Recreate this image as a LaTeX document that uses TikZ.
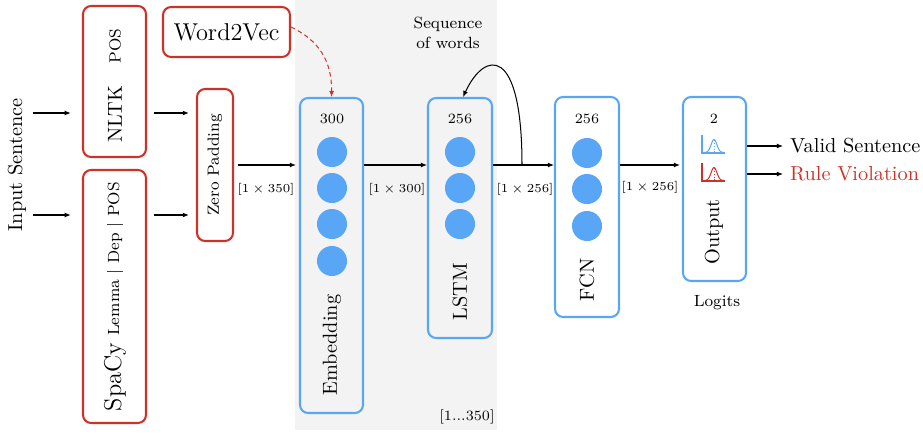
\documentclass[tikz,border=0pt]{standalone}
\usetikzlibrary{arrows.meta,fit,calc}
\definecolor{myred}{RGB}{205,50,40}
\definecolor{myblue}{RGB}{88,166,245}
\definecolor{bggray}{RGB}{243,243,243}
\begin{document}
\begin{tikzpicture}[x=0.4926pt,y=-0.4926pt,
  redbox/.style={draw=myred, line width=1pt, rounded corners=4pt, inner sep=0pt},
  bluebox/.style={draw=myblue, line width=1pt, rounded corners=4pt, inner sep=0pt},
  neuron/.style={circle, fill=myblue, minimum size=14.8pt, inner sep=0pt},
  arr/.style={-{Latex[length=3pt,width=2.4pt]}, line width=0.5pt},
  dimlbl/.style={font=\fontsize{5.6}{7}\selectfont},
  numlbl/.style={font=\scriptsize},
]
\useasboundingbox (0,0) rectangle (923,434);
\fill[bggray] (295,0) rectangle (497,430);

% left boxes
\node[redbox, fit={(83,6) (146,157)}] (nltk) {};
\node[rotate=90, font=\footnotesize] (nltkpos) at (115,46) {POS};
\node[rotate=90] (nltkname) at (115,114) {NLTK};
\node[redbox, fit={(83,170) (146,423)}] (spacy) {};
\node[rotate=90, font=\footnotesize] (spacyfeat) at (115,259) {Lemma $|$ Dep $|$ POS};
\node[rotate=90, font=\large] (spacyname) at (115,377) {SpaCy};
\node[redbox, fit={(163,7) (290,57)}] (w2v) {};
\node[font=\large] (w2vtext) at (w2v) {Word2Vec};
\node[redbox, fit={(197,89) (233,241)}] (zp) {};
\node[rotate=90, font=\footnotesize] (zptext) at (zp) {Zero Padding};
\node[rotate=90] (input) at (17,165) {Input Sentence};

\coordinate (a1) at (33,113);
\coordinate (a2) at (33,215);
\draw[arr, shorten >=5.5pt] (a1) -- (nltk.west |- a1);
\draw[arr, shorten >=5.5pt] (a2) -- (spacy.west |- a2);
\draw[arr, shorten <=3.5pt, shorten >=3.5pt] (nltk.east |- a1) -- (zp.west |- a1);
\draw[arr, shorten <=3.5pt, shorten >=3.5pt] (spacy.east |- a2) -- (zp.west |- a2);

% network boxes
\node[bluebox, fit={(300,98) (363,413)}] (emb) {};
\node[bluebox, fit={(428,98) (492,338)}] (lstm) {};
\node[bluebox, fit={(555,97) (619,317)}] (fcn) {};
\node[bluebox, fit={(683,97) (746,281)}] (out) {};

\node[numlbl] (embn) at (332,119) {300};
\node[neuron] (e1) at (332,152) {};
\node[neuron] (e2) at (332,188) {};
\node[neuron] (e3) at (332,224) {};
\node[neuron] (e4) at (332,261) {};
\node[rotate=90] (embtext) at (332,345) {Embedding};

\node[numlbl] (lstmn) at (460,119) {256};
\node[neuron] (l1) at (460,152) {};
\node[neuron] (l2) at (460,188) {};
\node[neuron] (l3) at (460,224) {};
\node[rotate=90] (lstmtext) at (460,292) {LSTM};

\node[numlbl] (fcnn) at (587,119) {256};
\node[neuron] (f1) at (587,153) {};
\node[neuron] (f2) at (587,189) {};
\node[neuron] (f3) at (587,226) {};
\node[rotate=90] (fcntext) at (587,280) {FCN};

\node[numlbl] (outn) at (714,119) {2};
\node[rotate=90] (outtext) at (714,232) {Output};

% distribution icons
\draw[myblue, line width=0.6pt] (702,135) -- (702,153) -- (725,153);
\draw[myblue, line width=0.5pt] plot[domain=-1:1, samples=40] ({714+10*\x},{152.5-13*exp(-6*\x*\x)});
\draw[myblue, densely dotted, line width=0.4pt] (714,140) -- (714,153);
\draw[myred, line width=0.6pt] (702,163) -- (702,181) -- (725,181);
\draw[myred, line width=0.5pt] plot[domain=-1:1, samples=40] ({714+10*\x},{180.5-13*exp(-6*\x*\x)});
\draw[myred, densely dotted, line width=0.4pt] (714,168) -- (714,181);

% arrows between stages
\coordinate (m) at (0,165);
\draw[arr, shorten <=2pt, shorten >=1.5pt] (zp.east |- m) -- (emb.west |- m);
\node[dimlbl] (d1) at (266,189) {$[1\times 350]$};
\draw[arr] (emb.east |- m) -- (lstm.west |- m);
\node[dimlbl] (d2) at (397,189) {$[1\times 300]$};
\draw[arr] (lstm.east |- m) -- (fcn.west |- m);
\node[dimlbl] (d3) at (525,189) {$[1\times 256]$};
\draw[arr, shorten >=1pt] (fcn.east |- m) -- (out.west |- m);
\node[dimlbl] (d4) at (650,187) {$[1\times 256]$};

% recurrent loop
\coordinate (rec) at (522,165);
\draw[arr] (rec) .. controls (522,45) and (485,50) .. ($(lstm.north)+(3,0)$);

% word2vec dashed
\draw[arr, myred, dash pattern=on 2.2pt off 1.6pt] ($(w2v.east)+(0,-5)$) .. controls (318,40) and (332,60) .. (emb.north);

% outputs
\coordinate (o1) at (783,146);
\coordinate (o2) at (783,174);
\draw[arr] (out.east |- o1) -- (o1);
\draw[arr] (out.east |- o2) -- (o2);
\node[anchor=west] (valid) at (o1) {Valid Sentence};
\node[anchor=west, text=myred] (viol) at (o2) {Rule Violation};

% annotations
\node[font=\footnotesize, align=center] (seq) at (448,33) {Sequence\\of words};
\node[font=\scriptsize] (range) at (467,417) {{[1...350]}};
\node[font=\footnotesize] (logits) at (717,303) {Logits};
\end{tikzpicture}
\end{document}
